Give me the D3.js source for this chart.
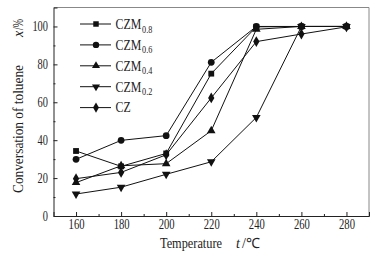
<!DOCTYPE html>
<html><head><meta charset="utf-8">
<script src="https://cdn.jsdelivr.net/npm/d3@7"></script>
<style>body{margin:0;background:#fff}svg{display:block}text{font-family:"Liberation Serif","Times New Roman",serif}</style>
</head><body>
<svg id="c" width="384" height="257"></svg>
<script>
const temps = [160, 180, 200, 220, 240, 260, 280];
const seriesNames = ["CZM0.8", "CZM0.6", "CZM0.4", "CZM0.2", "CZ"];
const legendMain = ["CZM", "CZM", "CZM", "CZM", "CZ"];
const legendSub = ["0.8", "0.6", "0.4", "0.2", ""];
const vCZM08 = [34.3, 26.2, 33, 75.1, 99.8, 100, 100];
const vCZM06 = [29.9, 39.9, 42.4, 81.1, 100, 100, 100];
const vCZM04 = [17.6, 26.5, 27.6, 45, 98.5, 100, 100];
const vCZM02 = [11.6, 15.2, 22, 28.6, 52, 100, 100];
const vCZ = [19.7, 23, 32.3, 62.3, 92, 96, 99.8];
const xTicks = [160, 180, 200, 220, 240, 260, 280];
const xMinor = [170, 190, 210, 230, 250, 270];
const yTicks = [0, 20, 40, 60, 80, 100];
const yMinor = [10, 30, 50, 70, 90];
const allValues = [vCZM08, vCZM06, vCZM04, vCZM02, vCZ];
const symbols = [d3.symbolSquare, d3.symbolCircle, d3.symbolTriangle, d3.symbolTriangle, d3.symbolDiamond];
const symSize = [34, 36, 32, 32, 34];
const symRot = [0, 0, 0, 180, 0];

const svg = d3.select("#c");
const L = 53.5, R = 369, T = 7.5, B = 216;
const x = d3.scaleLinear().domain([150, 290]).range([L, R]);
const y = d3.scaleLinear().domain([0, 110]).range([B, T]);

// frame top/right
svg.append("line").attr("x1", L).attr("x2", R).attr("y1", T).attr("y2", T).attr("stroke", "#888").attr("stroke-width", 1);
svg.append("line").attr("x1", R).attr("x2", R).attr("y1", T).attr("y2", B).attr("stroke", "#888").attr("stroke-width", 1);

// x axis
svg.append("g").attr("class", "xa").attr("transform", `translate(0,${B})`)
  .call(d3.axisBottom(x).tickValues(xTicks).tickSize(-4).tickPadding(3).tickFormat(d3.format("d")));
svg.append("g").attr("transform", `translate(0,${B})`)
  .call(d3.axisBottom(x).tickValues(xMinor).tickSize(-2).tickFormat(""))
  .select(".domain").remove();
// y axis
svg.append("g").attr("class", "ya").attr("transform", `translate(${L},0)`)
  .call(d3.axisLeft(y).tickValues(yTicks).tickSize(-4).tickPadding(7.5).tickFormat(d3.format("d")));
svg.append("g").attr("transform", `translate(${L},0)`)
  .call(d3.axisLeft(y).tickValues(yMinor).tickSize(-2).tickFormat(""))
  .select(".domain").remove();
svg.selectAll(".domain").attr("stroke", "#222");
svg.selectAll(".tick line").attr("stroke", "#222");
svg.selectAll(".tick text").attr("font-size", 14).attr("fill", "#222")
  .attr("font-family", '"Liberation Serif",serif');
svg.selectAll(".xa .tick text").attr("transform", "scale(0.76,1)");
svg.selectAll(".ya .tick text").attr("transform", "scale(0.74,1)");

// lines + markers
const line = d3.line().x((d, i) => x(temps[i])).y(d => y(d));
allValues.forEach((vals, s) => {
  svg.append("path").attr("d", line(vals)).attr("fill", "none").attr("stroke", "#111").attr("stroke-width", 1);
  svg.append("g").selectAll("path").data(vals).join("path")
    .attr("d", d3.symbol().type(symbols[s]).size(symSize[s]))
    .attr("transform", (d, i) => `translate(${x(temps[i])},${y(d)}) rotate(${symRot[s]})`)
    .attr("fill", "#111");
});

// legend
const lg = svg.append("g");
seriesNames.forEach((n, s) => {
  const ly = 24 + s * 20.9;
  lg.append("line").attr("x1", 80).attr("x2", 111).attr("y1", ly).attr("y2", ly).attr("stroke", "#111");
  lg.append("path").attr("d", d3.symbol().type(symbols[s]).size(symSize[s] - 4)())
    .attr("transform", `translate(96,${ly}) rotate(${symRot[s]})`).attr("fill", "#111");
  const t = lg.append("g").attr("transform", `translate(115.5,${ly + 4.8}) scale(0.82,1)`)
    .append("text").attr("font-size", 14.5).attr("fill", "#222");
  t.append("tspan").text(legendMain[s]);
  if (legendSub[s]) t.append("tspan").attr("font-size", 10).attr("dy", 3.7).attr("dx", 1).text(legendSub[s]);
});

// axis titles
const xt = svg.append("text").attr("y", 248).attr("font-size", 14).attr("fill", "#222");
xt.append("tspan").attr("x", 160).attr("textLength", 62).attr("lengthAdjust", "spacingAndGlyphs").text("Temperature");
xt.append("tspan").attr("x", 236).attr("font-style", "italic").text("t");
xt.append("tspan").attr("x", 242).attr("textLength", 18).attr("lengthAdjust", "spacingAndGlyphs").text("/℃");

const yt = svg.append("g").attr("transform", "translate(23,193) rotate(-90)")
  .append("text").attr("font-size", 14).attr("fill", "#222");
yt.append("tspan").attr("x", 0).attr("textLength", 128).attr("lengthAdjust", "spacingAndGlyphs").text("Conversation of toluene");
yt.append("tspan").attr("x", 156).attr("font-style", "italic").text("x");
yt.append("tspan").attr("x", 163).attr("textLength", 11).attr("lengthAdjust", "spacingAndGlyphs").text("/%");
</script>
</body></html>
